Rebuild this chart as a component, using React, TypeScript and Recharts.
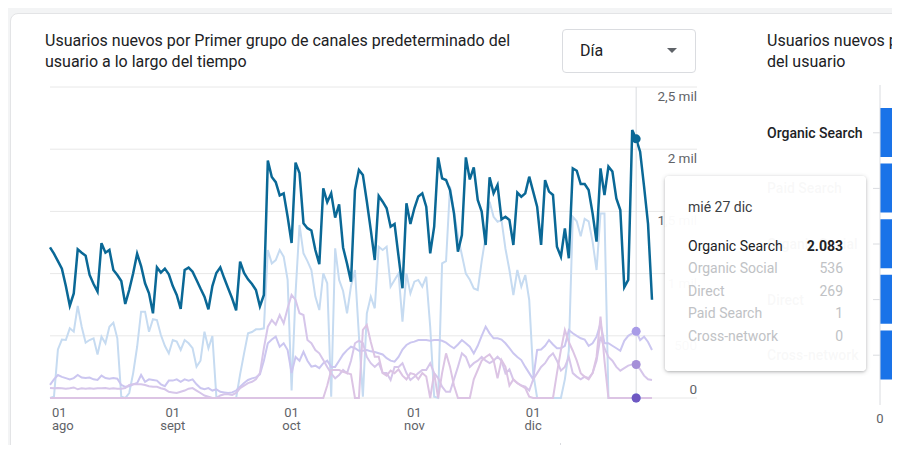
import React from 'react';
import { LineChart, Line, XAxis, YAxis, CartesianGrid, Tooltip, Legend, BarChart, Bar } from 'recharts';

// Daily new users, 1 Aug 2023 – 31 Dec 2023
const organicSearch = [
  1211, 1160, 1100, 1040, 900, 742, 841, 1195, 1168, 1144,
  989, 916, 855, 1245, 1168, 1190, 1029, 989, 940, 756,
  868, 1003, 1160, 1061, 922, 841, 681, 1050, 1008, 1040,
  994, 900, 828, 717, 1029, 1048, 1016, 949, 880, 815,
  713, 900, 1005, 1050, 962, 880, 800, 705, 1096, 1005,
  954, 916, 868, 737, 828, 1908, 1777, 1735, 1628, 1645,
  1457, 1246, 1892, 1808, 1405, 1365, 1347, 1190, 1075, 1685,
  1574, 1645, 1450, 1556, 1210, 1080, 935, 1672, 1833, 1793,
  1580, 1350, 1109, 1624, 1578, 1525, 1377, 1399, 1140, 882,
  1565, 1399, 1525, 1620, 1645, 1538, 1163, 1377, 1934, 1766,
  1752, 1672, 1484, 1176, 1310, 1934, 1757, 1854, 1592, 1498,
  1230, 1774, 1645, 1712, 1436, 1457, 1431, 1230, 1651, 1618,
  1645, 1779, 1659, 1538, 1230, 1752, 1659, 1632, 1216, 1136,
  1364, 1123, 1846, 1827, 1720, 1720, 1672, 1484, 1257, 1846,
  1632, 1860, 1820, 1605, 1511, 890, 949, 2154, 2083, 1980,
  1700, 1400, 790,
];

const paidSearch = [
  0, 10, 390, 470, 466, 560, 533, 740, 573, 445,
  466, 480, 350, 493, 440, 573, 605, 480, 10, 0,
  40, 200, 412, 694, 694, 533, 633, 627, 506, 420,
  359, 466, 453, 386, 466, 440, 400, 252, 300, 533,
  400, 498, 10, 0, 0, 0, 0, 0, 190, 359,
  520, 530, 552, 552, 560, 1190, 1082, 1109, 1190, 1136,
  949, 60, 841, 1391, 1163, 1100, 1029, 815, 707, 1002,
  922, 10, 1203, 949, 860, 681, 900, 1029, 500, 10,
  681, 815, 721, 1216, 1190, 1216, 895, 949, 1002, 614,
  1002, 841, 935, 949, 895, 975, 573, 10, 0, 1082,
  1100, 1700, 1500, 1300, 1150, 1000, 950, 880, 868, 1100,
  1300, 1578, 1457, 1417, 1430, 1200, 1029, 828, 1029, 895,
  989, 788, 200, 0, 0, 0, 0, 0, 0, 0,
  150, 380, 1457, 1420, 1300, 1440, 1420, 1257, 1029, 1484,
  1484, 0, 0, 0, 0, 0, 0, 0, 1, 0,
  0, 0, 0,
];

const organicSocial = [
  105, 150, 185, 170, 160, 150, 160, 185, 165, 160,
  165, 150, 145, 180, 160, 155, 160, 155, 105, 90,
  95, 110, 120, 185, 130, 150, 145, 140, 110, 95,
  140, 140, 150, 130, 150, 140, 150, 110, 80, 70,
  80, 60, 70, 50, 45, 40, 45, 60, 90, 120,
  145, 158, 166, 190, 300, 440, 470, 493, 412, 440,
  386, 200, 330, 300, 372, 300, 252, 260, 240, 280,
  300, 250, 250, 300, 350, 385, 412, 400, 380, 380,
  385, 375, 370, 360, 350, 320, 300, 292, 330, 390,
  426, 445, 453, 466, 466, 466, 460, 466, 466, 460,
  445, 420, 400, 430, 466, 440, 412, 359, 420, 500,
  573, 520, 480, 480, 470, 440, 400, 359, 330, 305,
  250, 200, 150, 386, 390, 420, 466, 430, 400, 400,
  420, 547, 520, 500, 480, 470, 420, 440, 493, 600,
  440, 440, 420, 400, 380, 460, 500, 520, 536, 466,
  493, 450, 386,
];

const direct = [
  80, 78, 80, 78, 75, 78, 85, 70, 78, 75,
  78, 75, 78, 78, 80, 75, 78, 75, 75, 80,
  105, 110, 110, 110, 105, 95, 90, 90, 78, 70,
  50, 45, 40, 50, 60, 75, 80, 60, 40, 20,
  10, 0, 0, 20, 30, 30, 25, 40, 80, 100,
  120, 130, 150, 200, 400, 573, 627, 590, 667, 600,
  721, 828, 788, 681, 667, 466, 441, 386, 359, 305,
  250, 198, 158, 185, 225, 198, 300, 440, 460, 440,
  330, 280, 250, 280, 200, 200, 145, 250, 250, 280,
  200, 145, 170, 200, 225, 225, 280, 200, 160, 91,
  50, 50, 150, 250, 359, 330, 250, 280, 300, 330,
  300, 280, 300, 332, 300, 198, 230, 145, 120, 100,
  91, 60, 150, 200, 250, 280, 330, 359, 300, 220,
  250, 330, 200, 172, 150, 172, 160, 200, 300, 493,
  400, 330, 300, 250, 220, 240, 260, 270, 269, 230,
  180, 150, 145,
];

const crossNetwork = [
  0, 0, 0, 0, 0, 0, 0, 0, 0, 0,
  0, 0, 0, 0, 0, 0, 0, 0, 0, 0,
  0, 0, 0, 0, 0, 0, 0, 0, 0, 0,
  0, 0, 0, 0, 0, 0, 0, 0, 0, 0,
  0, 0, 0, 0, 0, 0, 0, 0, 0, 0,
  0, 0, 0, 0, 0, 0, 0, 0, 0, 0,
  0, 0, 0, 0, 0, 0, 0, 0, 0, 0,
  100, 225, 225, 225, 210, 200, 190, 0, 0, 547,
  587, 450, 332, 332, 200, 180, 220, 200, 230, 180,
  150, 200, 190, 150, 200, 172, 0, 200, 0, 200,
  359, 250, 100, 0, 0, 0, 0, 150, 225, 300,
  330, 350, 305, 158, 305, 250, 100, 150, 120, 100,
  80, 10, 0, 0, 0, 0, 0, 0, 200, 386,
  547, 450, 380, 300, 200, 170, 150, 200, 330, 654,
  300, 0, 0, 0, 0, 0, 0, 0, 0, 0,
  0, 0, 0,
];

const monthTicks = [0, 31, 61, 92, 122];
const monthTickLabels = ['ago', 'sept', 'oct', 'nov', 'dic'];
const yTicks = [0, 500, 1000, 1500, 2000, 2500];
const yTickLabels = ['0', '500', '1 mil', '1,5 mil', '2 mil', '2,5 mil'];
const dayNames = ['dom', 'lun', 'mar', 'mié', 'jue', 'vie', 'sáb'];
const monthNames = ['ene', 'feb', 'mar', 'abr', 'may', 'jun', 'jul', 'ago', 'sept', 'oct', 'nov', 'dic'];
const hoverIndex = 148;

const series = [
  { key: 'ps', name: 'Paid Search', values: paidSearch, color: '#c6dbf1', dot: '#8ab4f8', legend: '#d2e3fc', width: 2 },
  { key: 'soc', name: 'Organic Social', values: organicSocial, color: '#cbc6f0', dot: '#a89be7', legend: '#d7d3f6', width: 2 },
  { key: 'dir', name: 'Direct', values: direct, color: '#d6c6ea', dot: '#a58fd8', legend: '#ddd2ef', width: 2 },
  { key: 'cn', name: 'Cross-network', values: crossNetwork, color: '#dcc4e4', dot: '#6f58c2', legend: '#e6d3ea', width: 2 },
];
const mainSeries = { key: 'org', name: 'Organic Search', values: organicSearch, color: '#0a6896' };
const legendOrder = ['Organic Search', 'Paid Search', 'Organic Social', 'Direct', 'Cross-network'];

const data = organicSearch.map((v, i) => {
  const d = new Date(2023, 7, 1 + i);
  const row: any = { i, label: `${dayNames[d.getDay()]} ${d.getDate()} ${monthNames[d.getMonth()]}`, org: v };
  series.forEach((s) => { row[s.key] = s.values[i]; });
  return row;
});

const sum = (a: number[]) => a.reduce((p, c) => p + c, 0);
const barData = [
  { name: 'Organic Search', value: sum(organicSearch) },
  { name: 'Paid Search', value: sum(paidSearch) },
  { name: 'Organic Social', value: sum(organicSocial) },
  { name: 'Direct', value: sum(direct) },
  { name: 'Cross-network', value: sum(crossNetwork) },
];

const fmt = (n: number) => String(n).replace(/\B(?=(\d{3})+(?!\d))/g, '.');
const FONT = "Roboto, 'Noto Sans', Arial, sans-serif";

const YTick = (props: any) => {
  const { x, y, payload } = props;
  const idx = yTicks.indexOf(payload.value);
  const dy = payload.value === 0 ? -9 : 9;
  return (
    <g>
      <line x1={x - 5} x2={x + 40} y1={y} y2={y} stroke="#e8e8e8" strokeWidth={1} />
      <text x={x + 40} y={y + dy} dominantBaseline="central" textAnchor="end" fontSize={13.5} fill="#5f6368">
        {yTickLabels[idx]}
      </text>
    </g>
  );
};

const XTick = (props: any) => {
  const { x, y, payload } = props;
  const idx = monthTicks.indexOf(payload.value);
  const first = idx === 0;
  const tx = first ? x + 2 : x;
  const anchor = first ? 'start' : 'middle';
  return (
    <g>
      <text x={tx} y={y + 19} textAnchor={anchor} fontSize={13} fill="#5f6368">01</text>
      <text x={tx} y={y + 32} textAnchor={anchor} fontSize={13} fill="#5f6368">{monthTickLabels[idx]}</text>
    </g>
  );
};

const TooltipBox = (props: any) => {
  const { active, payload } = props;
  if (!active || !payload || !payload.length) return null;
  const row = payload[0].payload;
  const items = [...payload].sort((a: any, b: any) => b.value - a.value);
  return (
    <div style={{
      width: 201, height: 195, boxSizing: 'border-box', padding: '22px 23px 0 23px',
      background: 'rgba(255,255,255,0.97)', borderRadius: 4,
      boxShadow: '0 1px 4px rgba(60,64,67,0.3), 0 1px 2px rgba(60,64,67,0.15)',
      fontFamily: FONT,
    }}>
      <div style={{ fontSize: 14, lineHeight: '18px', color: '#3c4043', marginBottom: 18.75 }}>{row.label}</div>
      {items.map((it: any, k: number) => (
        <div key={it.name} style={{ display: 'flex', justifyContent: 'space-between', fontSize: 14, lineHeight: '22.5px', color: k === 0 ? '#202124' : '#c0c2c5' }}>
          <span>{it.name}</span>
          <span style={{ fontWeight: k === 0 ? 700 : 400 }}>{fmt(it.value)}</span>
        </div>
      ))}
    </div>
  );
};

const LegendBox = () => {
  const colorOf = (n: string) => (n === mainSeries.name ? mainSeries.color : series.find((s) => s.name === n)!.legend);
  return (
    <div style={{ display: 'flex', alignItems: 'center', height: 20, paddingLeft: 2, fontFamily: FONT, whiteSpace: 'nowrap', overflow: 'hidden' }}>
      {legendOrder.map((n, k) => (
        <div key={n} style={{ display: 'flex', alignItems: 'center', marginRight: 10 }}>
          <span style={{ width: 10, height: 10, borderRadius: 5, background: colorOf(n), marginRight: 5, display: 'inline-block' }} />
          <span style={{ fontSize: 14, lineHeight: '20px', color: k === 0 ? '#202124' : '#bdc1c6' }}>{n}</span>
        </div>
      ))}
      <span style={{ width: 1, height: 20, background: '#dadce0', marginLeft: -2 }} />
    </div>
  );
};

const BarYTick = (props: any) => {
  const { x, y, payload } = props;
  return (
    <text x={x - 106} y={y} dominantBaseline="central" textAnchor="start" fontSize={14} fontWeight={500} fill="#202124">
      {payload.value}
    </text>
  );
};

const BarXTick = (props: any) => {
  const { x, y, payload } = props;
  return (
    <text x={x} y={y + 13} dominantBaseline="central" textAnchor="middle" fontSize={13} fill="#5f6368">
      {payload.value}
    </text>
  );
};

export default function App() {
  return (
    <div style={{ position: 'relative', width: 900, height: 453, margin: -8, overflow: 'hidden', background: '#f3f4f5', fontFamily: FONT }}>
      <style>{'html,body{overflow:hidden}'}</style>
      <div style={{ position: 'absolute', left: 10, top: 13, width: 960, height: 500, background: '#fff', border: '1px solid #e3e4e6', borderRadius: 8, boxSizing: 'border-box' }} />

      <div style={{ position: 'absolute', left: 45, top: 30, width: 492, fontSize: 16, lineHeight: '21px', color: '#202124' }}>
        Usuarios nuevos por Primer grupo de canales predeterminado del usuario a lo largo del tiempo
      </div>

      <div style={{ position: 'absolute', left: 562, top: 29, width: 134, height: 44, border: '1px solid #dadce0', borderRadius: 4, boxSizing: 'border-box' }}>
        <span style={{ position: 'absolute', left: 17, top: 0, lineHeight: '42px', fontSize: 16, color: '#202124' }}>Día</span>
        <span style={{ position: 'absolute', left: 104, top: 18, width: 0, height: 0, borderLeft: '5px solid transparent', borderRight: '5px solid transparent', borderTop: '5px solid #5f6368' }} />
      </div>

      <div style={{ position: 'absolute', left: 767, top: 30, width: 462, fontSize: 16, lineHeight: '21px', color: '#202124' }}>
        Usuarios nuevos por Primer grupo de canales predeterminado del usuario
      </div>

      <div style={{ position: 'absolute', left: 740, top: 80, zIndex: 0 }}>
        <BarChart width={1400} height={365} data={barData} layout="vertical" margin={{ top: 5, right: 0, bottom: 0, left: 0 }}>
          <XAxis type="number" domain={[0, 220000]} ticks={[0]} axisLine={false} tickLine={false} tickSize={0} tickMargin={0} height={40} tick={<BarXTick />} />
          <YAxis type="category" dataKey="name" width={140} axisLine={{ stroke: '#dadce0' }} tickLine={{ stroke: '#dadce0' }} tickSize={7} tickMargin={0} padding={{ top: 20, bottom: 22 }} tick={<BarYTick />} />
          <Bar dataKey="value" fill="#1a73e8" barSize={49} isAnimationActive={false} />
        </BarChart>
      </div>

      <div style={{ position: 'absolute', left: 0, top: 0, zIndex: 10 }}>
        <LineChart width={720} height={463} data={data} margin={{ top: 87, right: 23, bottom: 0, left: 50 }}>
          <CartesianGrid horizontal vertical={false} stroke="#e8e8e8" />
          <XAxis dataKey="i" type="number" domain={[0, 152]} ticks={monthTicks} axisLine={false} tickLine={false} tickSize={0} tickMargin={0} height={45} tick={<XTick />} interval={0} />
          <YAxis orientation="right" domain={[0, 2500]} ticks={yTicks} axisLine={false} tickLine={false} tickSize={0} tickMargin={5} width={45} tick={<YTick />} interval={0} />
          {series.map((s) => (
            <Line key={s.key} type="linear" dataKey={s.key} name={s.name} stroke={s.color} strokeWidth={s.width} dot={false}
              activeDot={{ r: 4.5, fill: s.dot, stroke: s.dot, strokeWidth: 0 }} isAnimationActive={false} />
          ))}
          <Line type="linear" dataKey={mainSeries.key} name={mainSeries.name} stroke={mainSeries.color} strokeWidth={2.5} dot={false}
            activeDot={{ r: 4.5, fill: mainSeries.color, stroke: mainSeries.color, strokeWidth: 0 }} isAnimationActive={false} />
          <Tooltip content={<TooltipBox />} defaultIndex={hoverIndex} active position={{ x: 665, y: 176 }}
            cursor={{ stroke: '#dadce0', strokeWidth: 1 }} isAnimationActive={false} wrapperStyle={{ zIndex: 20 }} />
          <Legend content={<LegendBox />} layout="horizontal" verticalAlign="bottom" align="left" height={20} />
        </LineChart>
      </div>
    </div>
  );
}
